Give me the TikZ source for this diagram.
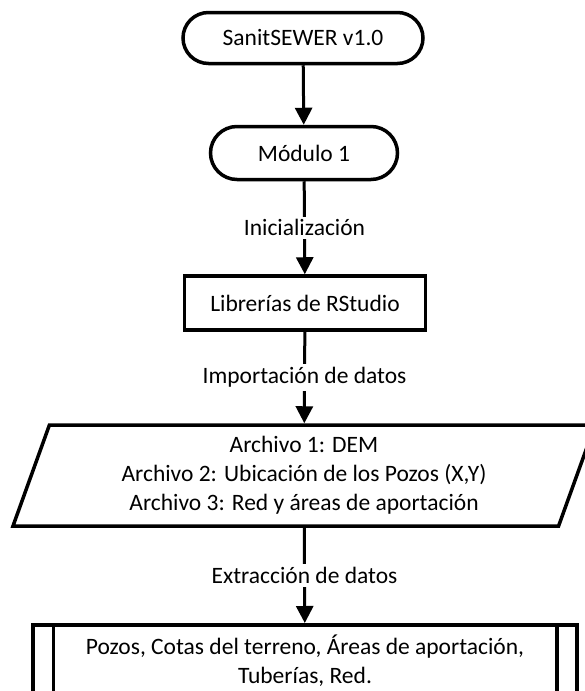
\documentclass[tikz,border=0pt]{standalone}
\usepackage{fontspec}
\setmainfont{Carlito}
\usetikzlibrary{arrows.meta,shapes.misc,shapes.geometric}

\begin{document}
\begin{tikzpicture}[x=1pt, y=-1pt,
  every node/.style={font=\fontsize{23.5}{29}\selectfont, align=center},
  term/.style={rounded rectangle, draw=black, line width=3.5pt, inner sep=0pt},
  proc/.style={rectangle, draw=black, line width=3.5pt, inner sep=0pt},
  inout/.style={trapezium, trapezium left angle=65, trapezium right angle=115,
                trapezium stretches body, draw=black, line width=3.5pt, inner sep=0pt},
  flow/.style={-{Triangle[length=17pt, width=17pt]}, line width=3pt},
  lbl/.style={fill=white, inner sep=3pt}]
\useasboundingbox (0,0) rectangle (585,691);
\clip (0,0) rectangle (585,691);
\fill[white] (0,0) rectangle (585,691);
\node[term, minimum width=240, minimum height=51] (start) at (303,38) {SanitSEWER v1.0};
\node[term, minimum width=187, minimum height=53] (mod1) at (304,153) {Módulo 1};
\node[proc, minimum width=241, minimum height=54] (lib) at (305,303) {Librerías de RStudio};
\node[inout, minimum width=582, minimum height=101] (arch) at (304,475.5)
  {Archivo 1: DEM\\ Archivo 2: Ubicación de los Pozos (X,Y)\\ Archivo 3: Red y áreas de aportación};
\node[proc, minimum width=544, minimum height=72, anchor=north] (res) at (305,623)
  {Pozos, Cotas del terreno, Áreas de aportación,\\ Tuberías, Red.};
\draw[line width=3.5pt] ([xshift=22pt]res.north west) -- ([xshift=22pt]res.south west);
\draw[line width=3.5pt] ([xshift=-22pt]res.north east) -- ([xshift=-22pt]res.south east);
\path[flow] (start) edge (mod1);
\path[flow] (mod1) edge node[lbl] (ini) {Inicialización} (lib);
\path[flow] (lib) edge node[lbl] (imp) {Importación de datos} (arch);
\path[flow] (arch) edge node[lbl] (ext) {Extracción de datos} (res);
\end{tikzpicture}
\end{document}
